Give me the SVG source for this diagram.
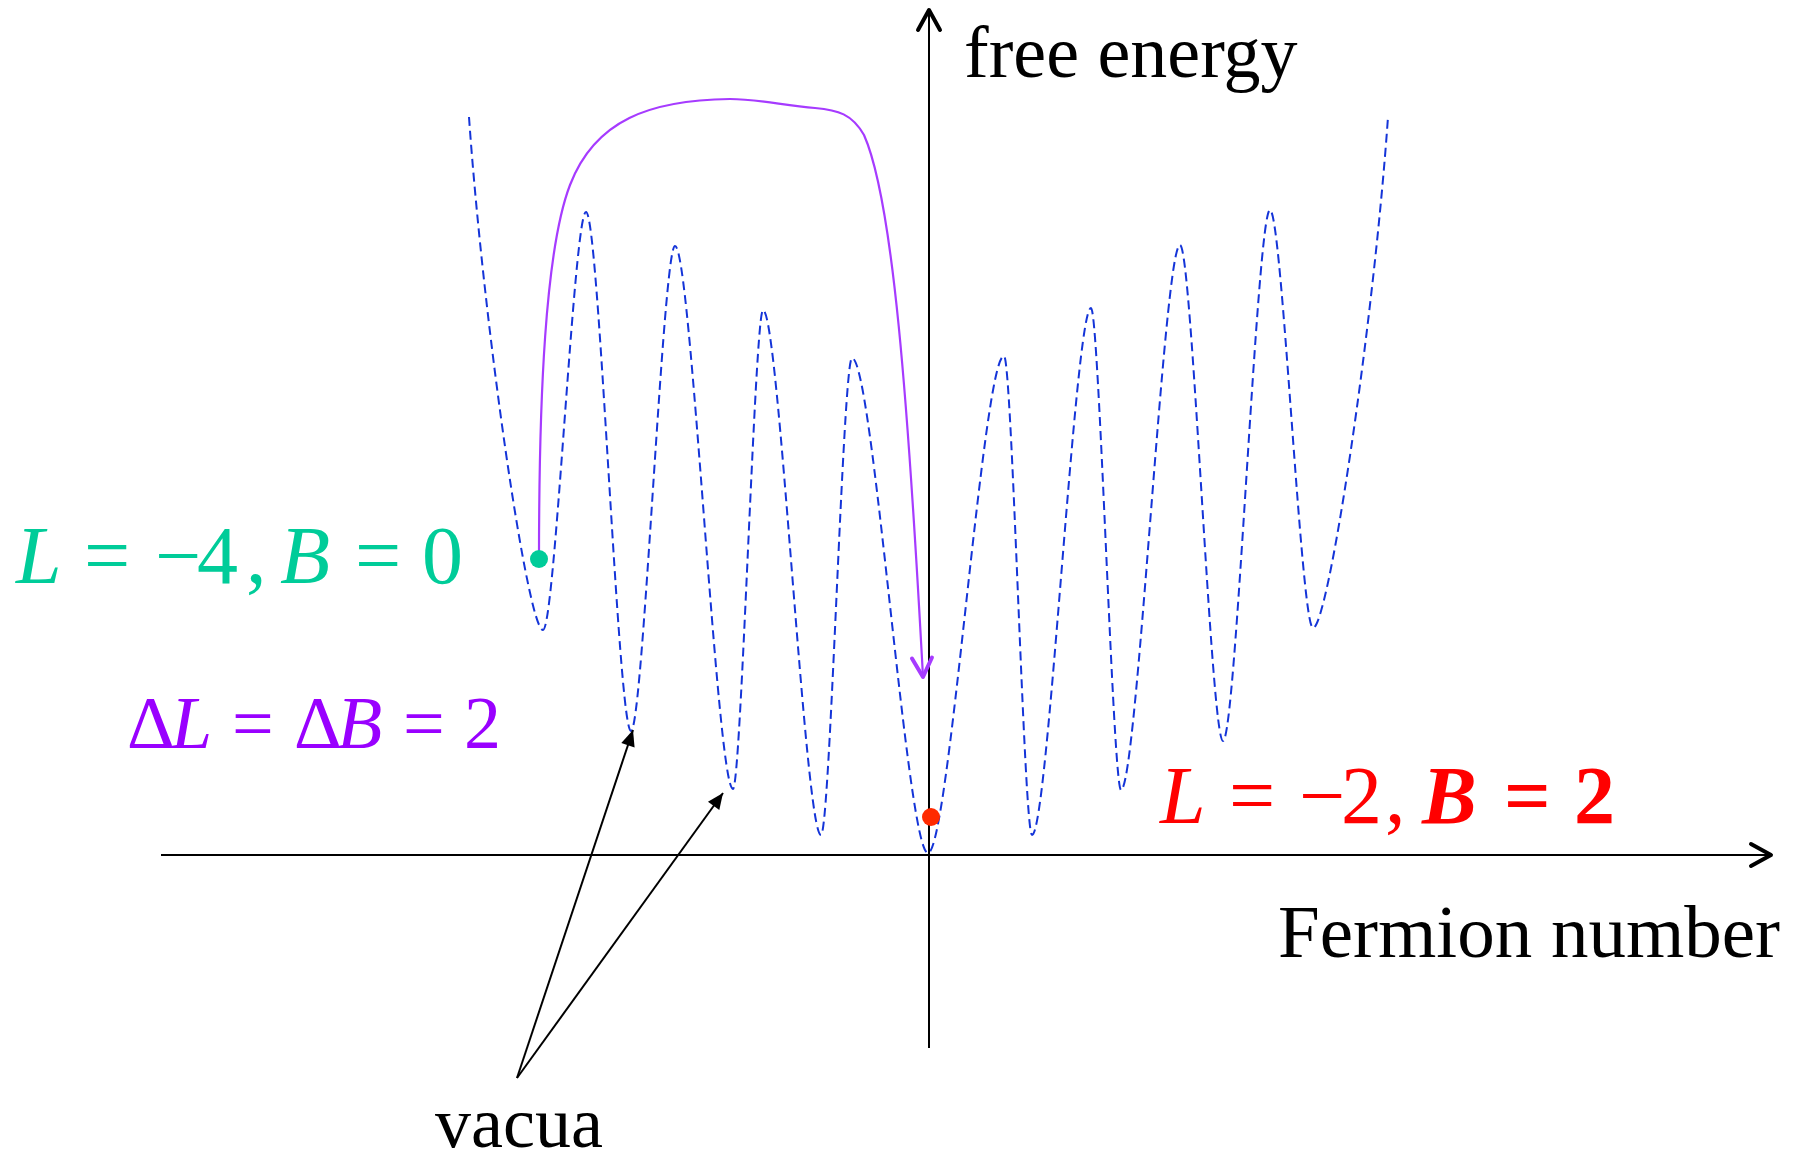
<svg xmlns="http://www.w3.org/2000/svg" width="1801" height="1156" viewBox="0 0 1801 1156">
<style>
text{font-family:"Liberation Serif","Times New Roman",serif}
.it{font-style:italic}
.bd{font-weight:bold}
.curve{fill:none;stroke:#1434d8;stroke-width:2;stroke-dasharray:9 5}
.axis{fill:none;stroke:#000;stroke-width:2}
.ptr{fill:none;stroke:#000;stroke-width:2}
.hop{fill:none;stroke:#a63bff;stroke-width:2.2}
</style>
<defs>
<marker id="chev" viewBox="-26 -15 30 30" markerWidth="30" markerHeight="30" refX="0" refY="0" orient="auto" markerUnits="userSpaceOnUse">
<path d="M-20,-11 L0,0 L-20,11" fill="none" stroke="#000" stroke-width="4" stroke-linecap="round" stroke-linejoin="round"/>
</marker>
<marker id="chevp" viewBox="-26 -15 30 30" markerWidth="30" markerHeight="30" refX="0" refY="0" orient="auto" markerUnits="userSpaceOnUse">
<path d="M-19,-10 L0,0 L-19,10" fill="none" stroke="#a63bff" stroke-width="4" stroke-linecap="round" stroke-linejoin="round"/>
</marker>
<marker id="tri" viewBox="-18 -9 20 18" markerWidth="20" markerHeight="18" refX="0" refY="0" orient="auto" markerUnits="userSpaceOnUse">
<path d="M-16,-7 L0,0 L-16,7 Z" fill="#000"/>
</marker>
</defs>

<g id="potential">
<path class="curve" d="M469,117 C484,330 528,630 543,630 C555,630 574,212 586,212 C599,212 618,731 631,731 C643,731 663,246 675,246 C691,246 717,789 733,789 C741,789 755,310 763,310 C779,310 805,835 821,835 C830,835 843,358 852,358 C873,358 907,853 928,853 C949,853 983,356 1004,356 C1012,356 1024,835 1032,835 C1048,835 1075,308 1091,308 C1099,308 1113,790 1121,790 C1137,790 1164,245 1180,245 C1192,245 1211,741 1223,741 C1236,741 1257,210 1270,210 C1282,210 1301,628 1313,628 C1328,628 1373,330 1388,117"/>
</g>

<g id="connectors">
<line id="y-axis" class="axis" x1="929" y1="1048" x2="929" y2="10" marker-end="url(#chev)"/>
<line id="x-axis" class="axis" x1="161" y1="855" x2="1771" y2="855" marker-end="url(#chev)"/>
<path id="transition" class="hop" d="M539,559 C539,400 545,250 570,185 C595,120 650,100 730,99 C760,99 785,106 815,108 C838,110 852,114 864,135 C893,200 908,400 923,677" marker-end="url(#chevp)"/>
<line id="vac-arrow-1" class="ptr" x1="517" y1="1078" x2="633" y2="730" marker-end="url(#tri)"/>
<line id="vac-arrow-2" class="ptr" x1="517" y1="1078" x2="723" y2="793" marker-end="url(#tri)"/>
</g>

<g id="start-state">
<circle cx="539" cy="559" r="9" fill="#00cc99"/>
<text font-size="82" fill="#00cc99" y="583"><tspan class="it" x="16">L</tspan><tspan x="84">=</tspan><tspan x="155">−</tspan><tspan x="197">4</tspan><tspan x="246">,</tspan><tspan class="it" x="280">B</tspan><tspan x="355">=</tspan><tspan x="422">0</tspan></text>
</g>

<g id="end-state">
<circle cx="931" cy="817" r="9" fill="#ff2a00"/>
<text font-size="82" fill="#ff0000" y="823"><tspan class="it" x="1160">L</tspan><tspan x="1229">=</tspan><tspan x="1299">−</tspan><tspan x="1341">2</tspan><tspan x="1385">,</tspan><tspan class="it bd" x="1422">B</tspan><tspan class="bd" x="1504">=</tspan><tspan class="bd" x="1574">2</tspan></text>
</g>

<g id="delta-label">
<text font-size="74" fill="#9900ff" y="748"><tspan x="127">Δ</tspan><tspan class="it" x="171">L</tspan><tspan x="232">=</tspan><tspan x="294">Δ</tspan><tspan class="it" x="337">B</tspan><tspan x="403">=</tspan><tspan x="464">2</tspan></text>
</g>

<g id="axis-labels">
<text font-size="74" fill="#000" x="964" y="77">free energy</text>
<text font-size="75" fill="#000" x="1278" y="957">Fermion number</text>
</g>

<g id="vacua-label">
<text font-size="72" fill="#000" x="435" y="1147">vacua</text>
</g>
</svg>
